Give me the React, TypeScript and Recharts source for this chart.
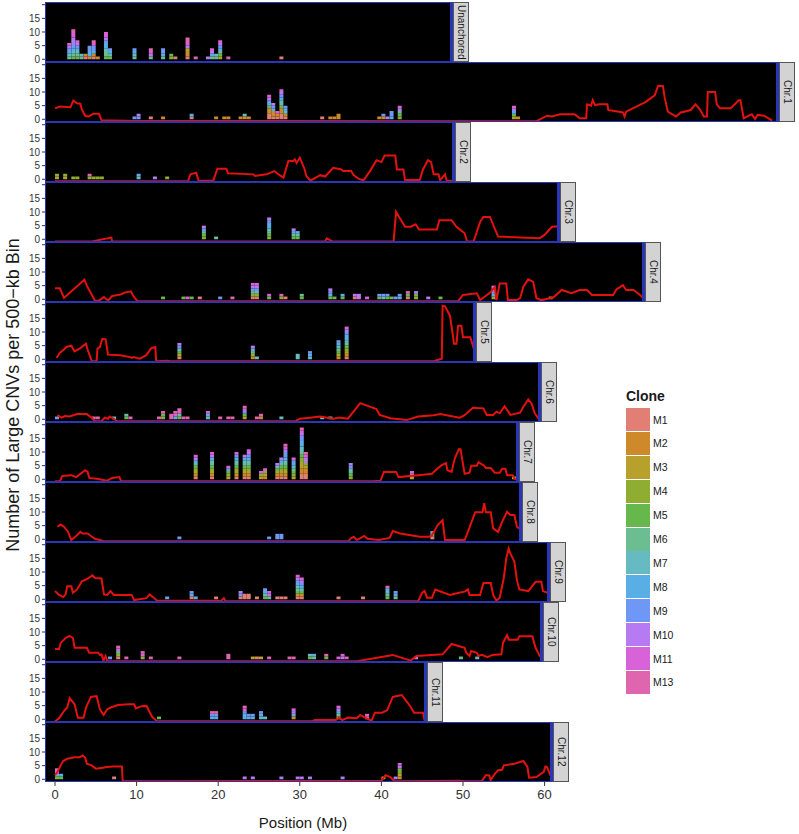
import { ComposedChart, LineChart, Bar, Line, XAxis, YAxis, CartesianGrid } from 'recharts';

type Bin = [number, number[]];
type Pt = [number, number];

const CLONES = ['M1', 'M2', 'M3', 'M4', 'M5', 'M6', 'M7', 'M8', 'M9', 'M10', 'M11', 'M13'];
const CLONE_NUMS = [1, 2, 3, 4, 5, 6, 7, 8, 9, 10, 11, 13];
const CLONE_COLORS = [
  '#E17F74', '#CE8A2A', '#B8A02D', '#8FAE31', '#66B84C', '#6CBE92',
  '#66BAC2', '#5AAEE6', '#6F98F6', '#B67AF2', '#D862D8', '#E065AF',
];

const PANELS = ['Unanchored', 'Chr.1', 'Chr.2', 'Chr.3', 'Chr.4', 'Chr.5', 'Chr.6', 'Chr.7', 'Chr.8', 'Chr.9', 'Chr.10', 'Chr.11', 'Chr.12'];
const PANEL_ENDS = [48.8, 88.7, 49.0, 61.9, 72.3, 51.6, 59.6, 56.9, 57.2, 60.7, 59.8, 45.6, 61.0];
const X_TICKS = [0, 10, 20, 30, 40, 50, 60];
const Y_TICKS = [0, 5, 10, 15, 20];

// stacked CNV counts per 500-kb bin: [bin centre (Mb), clones hit]
const binsUn: Bin[] = [
  [1.75, [6, 7, 8, 9, 10, 11]], [2.25, [5, 6, 7, 8, 9, 9, 10, 10, 11, 11, 13]], [2.75, [5, 6, 7, 8, 9, 10, 11]],
  [3.25, [6, 7]], [3.75, [1, 2]], [4.25, [2, 8, 8, 9, 9]], [4.75, [1, 2, 8, 9, 9, 11, 13]], [5.25, [2]],
  [6.25, [5, 6, 6, 7, 8, 8, 9, 10, 11, 11]], [6.75, [5, 6, 8, 9]], [9.75, [6, 7, 8, 9]], [11.75, [6, 10, 11, 13]],
  [13.25, [6, 8, 9, 9]], [14.25, [4, 5]], [14.75, [1]], [16.25, [1, 2, 2, 3, 10, 11, 13, 13]], [17.25, [13]],
  [18.75, [10]], [19.25, [6, 8, 10, 11]], [19.75, [6, 7]], [20.25, [3, 5, 6, 8, 9, 10, 11]], [21.25, [13]],
  [27.75, [1]],
];
const binsC1: Bin[] = [
  [9.75, [9]], [10.25, [9, 10]], [11.75, [1]], [13.25, [2]], [16.75, [1, 8]], [19.75, [2]], [20.75, [2]],
  [21.25, [2]], [22.75, [2]], [23.25, [2, 7]], [23.75, [2]], [26.25, [1, 1, 2, 2, 5, 8, 9, 10, 11]],
  [26.75, [1, 2, 2, 8, 9, 10]], [27.25, [1, 2, 11]], [27.75, [1, 1, 2, 2, 5, 6, 7, 8, 9, 10, 11]],
  [28.25, [1, 2, 7, 8, 9]], [32.75, [1]], [33.75, [2]], [34.25, [2]], [34.75, [2, 2]], [39.75, [2]],
  [40.25, [2, 9]], [40.75, [10]], [41.25, [8, 9, 9]], [42.25, [4, 5, 6, 10, 11]], [56.25, [3, 5, 8, 10, 11]], [56.75, [2]],
];
const binsC2: Bin[] = [
  [0.25, [3, 4]], [1.25, [3, 4]], [2.25, [4]], [2.75, [4]], [4.25, [4, 13]], [4.75, [4]], [5.25, [4]], [5.75, [4]],
  [10.25, [7, 8]], [12.25, [10]], [13.75, [4]],
];
const binsC3: Bin[] = [
  [18.25, [4, 5, 6, 9, 10]], [19.75, [6]], [26.25, [4, 5, 6, 7, 8, 8, 9, 10]], [29.25, [5, 6, 8, 10]], [29.75, [5, 6, 8]],
];
const binsC4: Bin[] = [
  [13.25, [5]], [15.75, [5]], [16.25, [11]], [16.75, [5]], [17.75, [1]], [20.25, [9]], [21.75, [13]],
  [24.25, [1, 4, 6, 9, 10, 11]], [24.75, [1, 4, 6, 9, 10, 11]], [26.25, [5, 11]], [27.75, [4, 13]], [28.25, [1]],
  [30.25, [5, 6]], [33.75, [5, 8, 9, 10]], [34.25, [5]], [35.25, [5, 8]], [36.75, [1, 10]], [37.25, [10, 10]],
  [38.25, [11]], [39.75, [5, 9]], [40.25, [7, 9]], [40.75, [5, 9]], [41.25, [5]], [41.75, [9]], [42.25, [8, 9]],
  [43.25, [1, 5, 13]], [44.25, [4, 5, 10]], [45.75, [10]], [47.25, [5]], [53.75, [4, 8, 9, 10, 11]], [60.75, [1]],
];
const binsC5: Bin[] = [
  [15.25, [1, 3, 5, 7, 9, 10]], [24.25, [2, 4, 6, 8, 10]], [24.75, [7]], [29.75, [7, 7]], [31.25, [7, 8, 9]],
  [34.75, [2, 3, 5, 6, 7, 8, 9]], [35.75, [1, 2, 3, 4, 5, 6, 7, 8, 8, 9, 10, 11]],
];
const binsC6: Bin[] = [
  [0.25, [9]], [4.75, [13]], [5.25, [13]], [7.25, [7]], [8.75, [5, 6]], [9.25, [13]], [12.75, [13]],
  [13.25, [4, 5, 13]], [14.25, [13, 13]], [14.75, [8, 11, 13]], [15.25, [5, 6, 11, 13]], [15.75, [13]], [16.25, [13]],
  [18.75, [7, 8, 11]], [20.25, [13]], [21.25, [13]], [21.75, [13]], [23.25, [3, 5, 9, 11, 13]], [24.75, [13]],
  [25.25, [2, 13]], [27.75, [7]], [32.75, [7]], [33.75, [7]],
];
const binsC7: Bin[] = [
  [17.25, [1, 2, 3, 4, 5, 6, 8, 10, 11]], [19.25, [1, 2, 3, 4, 5, 6, 7, 8, 10, 11]], [21.25, [3, 4, 5, 9, 11]],
  [22.25, [1, 2, 3, 4, 5, 6, 7, 8, 9, 11]], [23.25, [1, 2, 3, 4, 5, 6, 7, 8, 10]], [23.75, [1, 2, 3, 4, 5, 6, 7, 8, 9, 10, 11]],
  [25.25, [3, 4, 11]], [25.75, [2, 3, 4, 11]], [27.25, [1, 2, 3, 5, 7, 10]], [27.75, [1, 2, 3, 4, 5, 6, 8, 10]],
  [28.25, [1, 2, 3, 4, 5, 6, 7, 8, 9, 9, 10, 11, 13]], [29.25, [3, 4, 5, 6, 7, 8, 9, 11]],
  [30.25, [1, 1, 2, 2, 3, 3, 4, 4, 5, 6, 7, 7, 8, 8, 9, 9, 10, 11, 13]], [30.75, [1, 1, 2, 2, 3, 4, 10, 10, 11, 13]],
  [36.25, [4, 5, 6, 7, 9, 10]], [43.75, [3, 10, 11]], [56.25, [4]],
];
const binsC8: Bin[] = [
  [15.25, [9]], [26.25, [9]], [27.25, [9, 9]], [27.75, [9, 9]], [46.25, [1, 5, 9]],
];
const binsC9: Bin[] = [
  [13.75, [8]], [16.75, [1, 8, 9]], [17.25, [8]], [19.75, [1]], [22.75, [1, 9, 10]], [23.25, [1, 1]], [23.75, [1, 1]],
  [24.75, [1]], [25.75, [5, 6, 8, 9]], [26.25, [6, 10, 11]], [27.25, [1]], [27.75, [1]], [28.25, [1]],
  [29.75, [1, 2, 5, 6, 7, 8, 9, 10, 11]], [30.25, [1, 2, 5, 7, 8, 9, 10, 11]], [34.75, [1]], [37.75, [1]],
  [40.75, [5, 6, 7, 8, 13]], [41.75, [6, 8, 9]],
];
const binsC10: Bin[] = [
  [6.75, [9]], [7.75, [1, 4, 6, 11, 13]], [8.75, [13]], [10.75, [4, 11, 13]], [11.75, [13]], [15.25, [13]],
  [21.25, [13, 13]], [24.25, [3]], [24.75, [1]], [25.25, [3]], [26.25, [13]], [28.75, [13]], [29.25, [13]],
  [31.25, [5, 7]], [31.75, [6, 8]], [33.25, [5, 13]], [34.75, [11]], [35.25, [10, 11]], [35.75, [13]],
  [44.25, [10]], [49.75, [6]], [51.75, [7]],
];
const binsC11: Bin[] = [
  [12.75, [5]], [19.25, [8, 9, 13]], [19.75, [8, 9, 13]], [23.25, [8, 8, 9, 11, 13]], [23.75, [8, 9]], [24.25, [8, 9]],
  [25.25, [7, 8, 9]], [25.75, [7]], [29.25, [2, 8, 10, 11]], [34.75, [3, 6, 8, 10, 11]], [38.25, [11, 13]],
];
const binsC12: Bin[] = [
  [0.25, [4, 8, 10, 13]], [0.75, [5, 8]], [7.25, [1]], [23.25, [10]], [24.25, [10]], [27.75, [10]], [29.75, [10]],
  [30.25, [10]], [31.25, [10]], [35.25, [10]], [40.25, [3]], [41.75, [10]], [42.25, [2, 3, 4, 5, 10, 11]],
];

// red density track: [position (Mb), value]
const lineC1: Pt[] = [
  [0, 4], [0.6, 4.7], [1.9, 4.4], [2.25, 6.9], [2.7, 5.9], [3.1, 5.7], [3.3, 3.5], [3.7, 1.2], [4.1, 1], [4.7, 2], [5.4, 2],
  [5.7, -0.4], [10, -0.6], [59, -0.7], [60.3, 1.3], [60.9, 1], [61.9, 1.8], [63.7, 1.8], [64.3, 0.4], [65.1, 0.4],
  [65.2, 5.5], [65.7, 5], [65.9, 7], [66.2, 5.2], [66.7, 5.5], [67.7, 5.5], [67.8, 3.4], [69.6, 2.5], [69.8, 1],
  [70, 2.8], [72.3, 6.2], [73.5, 8.8], [73.9, 12.2], [74.5, 12.2], [74.7, 8.2], [75.1, 2.8], [76.1, 1], [76.7, 2.5],
  [77.9, 3.4], [78.5, 5.5], [79.1, 3.4], [79.5, 1], [79.9, 1], [80, 10], [80.9, 10], [81.1, 5.5], [81.5, 4], [82.8, 4],
  [83.8, 7], [84, 7], [84.4, 0.4], [84.8, 1], [85.4, 1.8], [85.8, 0.1], [86.1, 1.6], [86.9, 1.3], [87.9, -0.5],
];
const lineC2: Pt[] = [
  [0, -0.7], [16.3, -0.7], [16.6, 1.8], [17.3, 2.4], [17.6, -0.5], [19.4, -0.5], [19.9, 3.9], [21.0, 3.9], [21.2, 2.2],
  [24.3, 1.8], [24.5, 1.2], [25.9, 1.8], [26.9, 3], [27.2, 2.2], [28.0, 0.6], [28.6, 6.7], [29.2, 6.7], [29.4, 7.3],
  [29.6, 6], [30.0, 7.9], [30.6, 3.6], [30.8, 1.2], [31.3, -0.5], [32.5, 1.5], [33.1, 1], [34.1, 4.2], [35.1, 3.6],
  [35.3, 3], [36.3, 3], [36.6, 1.5], [37.2, 0.2], [37.8, -0.5], [38.6, 3], [39.4, 7], [40.0, 6.3], [40.4, 8.7],
  [41.7, 8.7], [41.9, 3.6], [42.7, 3.6], [42.9, -0.3], [44.7, -0.3], [45.1, 3.6], [45.7, 7], [46.1, 6.3], [46.4, 1.8],
  [47.0, 1.8], [47.2, -0.3], [47.8, 1.8], [48.0, -0.5], [49.0, -0.5],
];
const lineC3: Pt[] = [
  [0, -0.8], [4.5, -0.8], [6.9, 0.6], [7.0, -0.8], [33.1, -0.8], [33.3, 0.3], [34.0, -0.8], [41.5, -0.8], [41.8, 10],
  [42.9, 4.6], [43.6, 4.6], [44.2, 5.5], [44.6, 3.6], [46.8, 3.6], [47.1, 7], [48.6, 7], [49.2, 4.6], [50.2, 2.2],
  [50.5, -0.8], [51.3, -0.8], [52.1, 6.4], [52.5, 8.2], [53.3, 8.2], [54.3, 1], [59.4, 0.4], [60.0, 1.6], [60.9, 4.6], [61.9, 4.8],
];
const lineC4: Pt[] = [
  [0, 4], [0.6, 4], [1.1, 0.5], [3.6, 7.2], [3.9, 5], [4.9, -0.5], [5.4, -0.5], [6.0, 0.8], [6.5, -0.5], [7.0, 1.2],
  [8.0, 1.7], [8.5, 2.4], [9.3, 2.9], [9.6, 1.2], [10.1, -0.7], [49.4, -0.7], [50.0, 1.6], [51.7, 2.2], [52.1, -0.3],
  [53.3, 2.4], [53.9, 4.4], [54.1, -0.3], [54.5, 5.8], [55.3, 5.8], [55.5, -0.3], [56.6, -0.3], [57.0, 0.4], [57.4, 4.6],
  [58.0, 7.3], [58.6, 6.4], [59.0, 0.4], [59.6, -0.3], [61.1, 0.7], [62.1, 3.4], [63.3, 2.2], [64.3, 3.4], [65.2, 3.4],
  [65.8, 1.6], [68.4, 1.6], [68.8, 3.6], [69.6, 5.2], [70.0, 3.4], [70.9, 3.4], [71.7, 1.6], [72.3, -0.3],
];
const lineC5: Pt[] = [
  [0.2, 0.5], [0.6, 2.4], [1.0, 3.3], [1.4, 4.5], [2.0, 5], [2.4, 2.9], [3.1, 4.1], [3.8, 5.7], [4.0, 3.6], [4.5, -0.7],
  [5.1, -0.7], [5.2, 3.9], [5.5, 4.5], [5.8, 7.5], [6.2, 7.3], [6.5, 1.7], [8.0, 1.5], [9.2, 0.8], [9.4, 0.5], [9.6, 0.8],
  [10.4, 0.2], [11.2, 1.5], [11.8, 4.1], [12.3, 4.5], [12.4, -0.7], [13.7, -0.5], [14.1, -0.7], [46.4, -0.7], [47.4, 0.2],
  [47.5, 19.6], [47.8, 19.4], [48.4, 16], [48.7, 10], [48.9, 5.7], [49.2, 5.7], [49.4, 12.3], [49.8, 12.3], [50.0, 8.1],
  [50.9, 8.1], [51.3, 4.1], [51.6, 1.2],
];
const lineC6: Pt[] = [
  [0.3, 1.5], [0.8, 0.6], [1.2, 1.2], [1.8, 1], [2.7, 1.9], [3.9, 1.9], [4.5, 0.6], [4.9, -0.7], [5.7, -0.7], [6.1, 0.6],
  [6.5, 0.2], [6.7, 1], [7.2, 0.2], [7.6, -0.7], [29.5, -0.7], [30.0, 0.2], [31.2, 0.6], [32.5, 1], [34.1, 0.2],
  [34.9, 0.6], [35.9, 0.2], [37.4, 5.9], [39.4, 3.7], [39.8, 1.6], [41.1, 0.4], [43.1, -0.3], [44.5, 1], [46.4, 1.5],
  [47.2, 1.9], [49.6, 0.6], [50.2, 1.5], [51.2, 4.2], [52.5, 4], [52.9, 1.6], [53.7, 1.6], [54.1, 2.8], [54.5, 2.2],
  [55.1, 4.8], [55.8, 1.6], [57.0, 2.4], [57.4, 4.6], [58.0, 7.3], [58.4, 5.8], [58.8, 2.2], [59.4, -0.3], [59.6, -0.5],
];
const lineC7: Pt[] = [
  [0, -0.7], [0.6, -0.7], [0.9, 1.2], [2.0, 1.5], [2.6, 0.8], [3.7, 3.3], [4.0, 2.7], [4.2, 0.5], [5.1, 0.2], [6.4, -0.5],
  [7.0, 0.5], [7.9, 0.8], [8.1, -0.7], [39.0, -0.7], [39.9, -0.5], [40.3, 2.7], [41.8, 2.7], [42.1, 0.8], [44.5, 1.5],
  [46.2, 2], [46.4, 2.7], [47.3, 5], [47.9, 6], [48.1, 3.3], [48.6, 2.7], [49.0, 7.7], [49.5, 11.1], [49.7, 11],
  [50.2, 2], [50.8, 2.4], [51.0, 5], [51.7, 5], [51.9, 6.3], [52.6, 5], [52.8, 4.1], [53.4, 4.1], [53.9, 2.4],
  [54.5, 2.4], [54.8, 3.9], [55.2, 3.9], [55.4, 1.5], [56.1, 1.5], [56.3, 0.2], [56.9, -0.3],
];
const lineC8: Pt[] = [
  [0.3, 4.6], [0.7, 5.4], [1.1, 4.6], [1.6, 2.7], [2.0, -0.3], [2.7, 1.5], [3.1, 2.7], [3.4, 2.1], [4.0, 2.1], [4.4, 1.2],
  [4.9, 0.2], [6.0, -0.7], [36.0, -0.7], [36.2, 0.2], [36.6, 0.9], [37.0, -0.3], [37.9, 1.2], [38.3, 0.2], [39.7, -0.3],
  [41.0, 0.5], [41.4, 3], [42.3, 2.1], [44.7, 0.9], [45.8, 0.9], [46.2, 1.5], [46.9, 5.2], [47.5, 7], [47.8, -0.3],
  [50.2, -0.3], [50.6, 2.7], [51.5, 9.9], [52.4, 9.9], [52.6, 13.2], [52.8, 9.9], [53.4, 9.9], [53.7, 4], [54.3, 2.7],
  [54.8, 6.4], [55.4, 10.1], [55.8, 8.9], [56.3, 8.9], [56.6, 4.6], [56.9, 4],
];
const lineC9: Pt[] = [
  [0, 3], [0.5, 1.6], [1.0, 0.8], [1.3, 1.8], [1.5, 4.8], [2.0, 4.8], [2.2, 2.4], [2.7, 3.6], [3.3, 6.6], [4.0, 7.6],
  [4.6, 8.8], [4.9, 7.8], [5.7, 7.6], [6.0, 1.8], [6.4, 1.6], [6.8, 3], [7.2, 1.6], [9.4, 1.6], [9.7, -0.3], [11.2, 0.4],
  [11.6, 1.8], [12.1, 0.6], [12.5, -0.5], [20.4, -0.5], [20.7, 0.4], [20.9, -0.7], [44.5, -0.7], [45.0, 2.4], [45.3, 3],
  [45.6, 0.6], [46.2, 0.6], [46.6, 3.6], [48.4, 1.6], [49.5, 2.4], [50.2, 2.8], [50.6, 3.6], [50.8, 1.6], [52.1, 1.6],
  [52.5, 6], [53.4, 6], [53.7, 1.6], [54.1, -0.5], [54.5, 0.6], [55.0, 7.8], [55.3, 15], [55.6, 18.6], [55.8, 16.8],
  [56.3, 13.8], [56.6, 7.2], [56.9, 3.6], [58.0, 3], [58.9, 6.4], [59.6, 6.4], [59.8, 3], [60.4, 2.4], [60.6, 0.6],
];
const lineC10: Pt[] = [
  [0, 3.8], [0.5, 3.8], [0.7, 6], [1.3, 7.8], [1.8, 8.6], [2.2, 7.8], [2.4, 4.2], [3.9, 4.2], [4.2, 2.4], [5.3, 2.4],
  [5.5, 1.6], [5.7, 1.8], [5.95, -0.5], [6.2, 1.2], [6.4, -0.7], [37.0, -0.7], [41.4, 1.6], [43.6, -0.5], [44.3, 1.2],
  [47.5, 1.8], [48.6, 5.6], [50.2, 4.2], [50.4, 2.4], [50.8, 1.2], [51.0, 3], [51.7, 2.4], [51.9, 1.2], [52.3, 1.6],
  [53.0, 0.8], [53.6, 1.6], [54.7, 1.8], [54.9, 6], [55.4, 8.8], [55.6, 7.2], [56.7, 7.2], [56.9, 8.4], [58.5, 8.4],
  [58.9, 4.2], [59.4, 1.2], [59.8, 0.8],
];
const lineC11: Pt[] = [
  [0, -0.7], [0.5, 0.4], [1.1, 3], [1.5, 4.3], [1.8, 7.7], [2.4, 5.5], [2.8, 0.6], [3.5, 0.6], [3.8, 4.3], [4.4, 8.2],
  [5.1, 8.5], [5.5, 3.7], [5.95, 1.6], [6.4, 3.7], [7.0, 4.5], [7.7, 5.2], [9.0, 5.5], [9.7, 5.5], [9.9, 4], [10.6, 4.8],
  [11.2, 4.9], [11.9, 0.9], [12.5, -0.7], [31.6, -0.7], [31.8, -0.3], [34.4, -0.3], [34.8, 0.6], [35.2, -0.3],
  [35.9, 0.6], [37.0, 0.4], [37.4, 1.6], [38.1, 0.4], [38.8, -0.5], [39.2, 2.4], [40.1, 2.4], [40.7, 3.3], [41.4, 8.2],
  [42.5, 8.9], [42.9, 7.3], [43.6, 4.5], [44.0, 2.4], [45.1, 2.4], [45.3, -0.5],
];
const lineC12: Pt[] = [
  [0, 1.5], [0.3, 2.7], [0.7, 5.1], [1.0, 6.7], [1.5, 7.5], [2.4, 8.1], [3.0, 8.1], [3.4, 8.7], [3.7, 7.9], [3.9, 5.7],
  [4.5, 5.1], [5.0, 3.9], [5.9, 4.2], [6.3, 4.5], [7.1, 4.7], [8.2, 4.7], [8.3, -0.7], [40.0, -0.5], [40.5, 1.5],
  [41.1, 0.8], [41.6, -0.7], [49.5, -0.5], [50.1, -0.7], [52.3, -0.7], [52.8, 1.5], [53.2, 1.5], [53.4, -0.3], [53.9, 2],
  [54.3, 3.3], [54.8, 3.5], [55.0, 5.1], [56.3, 5.7], [57.4, 6.7], [57.9, 4.5], [58.1, 0.6], [59.0, 0.8], [59.9, 2.7],
  [60.1, 4.7], [60.3, 4.5], [60.7, 1.5], [61.0, 0.6],
];

const PANEL_BINS = [binsUn, binsC1, binsC2, binsC3, binsC4, binsC5, binsC6, binsC7, binsC8, binsC9, binsC10, binsC11, binsC12];
const PANEL_LINES: Pt[][] = [[], lineC1, lineC2, lineC3, lineC4, lineC5, lineC6, lineC7, lineC8, lineC9, lineC10, lineC11, lineC12];

const FONT = '"Liberation Sans", Arial, Helvetica, sans-serif';
const PX_PER_MB = 8.16;
const X_MIN = -1.225;
const PLOT_LEFT = 45;
const TOP0 = 2;
const PANEL_H = 60;
const PAD = 6;
const BORDER = '#2a36b8';

const toRows = (bins: Bin[]) =>
  bins.map(([pos, list]) => {
    const row: Record<string, number> = { pos };
    CLONES.forEach((c, k) => {
      row[c] = list.filter((n) => n === CLONE_NUMS[k]).length;
    });
    return row;
  });

const Panel = ({ idx }: { idx: number }) => {
  const end = PANEL_ENDS[idx];
  const w = PLOT_LEFT + (end - X_MIN) * PX_PER_MB;
  const top = TOP0 + idx * PANEL_H;
  const last = idx === PANELS.length - 1;
  const bottomSpace = last ? 26 : PAD;
  const h = PAD + PANEL_H + bottomSpace;
  const rows = toRows(PANEL_BINS[idx]);
  const lineRows = PANEL_LINES[idx].map(([pos, v]) => ({ pos, v }));

  return (
    <>
      <div style={{ position: 'absolute', left: 0, top: top - PAD, width: w, height: h }}>
        <ComposedChart
          width={w}
          height={h}
          data={rows}
          margin={{ top: PAD, right: 0, bottom: last ? 0 : PAD, left: 0 }}
        >
          <CartesianGrid fill="#000" fillOpacity={1} horizontal={false} vertical={false} stroke="none" />
          <XAxis
            type="number"
            dataKey="pos"
            domain={[X_MIN, end]}
            allowDataOverflow
            hide={!last}
            height={last ? 26 : 0}
            ticks={X_TICKS}
            interval={0}
            axisLine={false}
            tickSize={4}
            tickMargin={4}
            tickLine={{ stroke: '#333' }}
            tick={{ fontSize: 13, fill: '#333' }}
          />
          <YAxis
            type="number"
            domain={[-1, 21]}
            allowDataOverflow
            ticks={Y_TICKS}
            interval={0}
            width={PLOT_LEFT}
            axisLine={false}
            tickSize={3}
            tickMargin={2}
            tickLine={{ stroke: '#333' }}
            tick={{ fontSize: 10, fill: '#333' }}
            tickFormatter={(v: number) => (v === 20 ? '' : String(v))}
          />
          {CLONES.map((c, k) => (
            <Bar key={c} dataKey={c} stackId="clone" fill={CLONE_COLORS[k]} barSize={4} isAnimationActive={false} />
          ))}
        </ComposedChart>
      </div>
      {lineRows.length > 0 && (
        <div style={{ position: 'absolute', left: 0, top: top - PAD, width: w, height: h }}>
          <LineChart
            width={w}
            height={h}
            data={lineRows}
            margin={{ top: PAD, right: 0, bottom: bottomSpace, left: PLOT_LEFT }}
          >
            <XAxis type="number" dataKey="pos" domain={[X_MIN, end]} allowDataOverflow hide />
            <YAxis type="number" domain={[-1, 21]} allowDataOverflow hide />
            <Line
              dataKey="v"
              type="linear"
              stroke="#e3120f"
              strokeWidth={2}
              dot={false}
              activeDot={false}
              isAnimationActive={false}
            />
          </LineChart>
        </div>
      )}
      <div
        style={{
          position: 'absolute',
          left: PLOT_LEFT,
          top,
          width: w - PLOT_LEFT,
          height: PANEL_H,
          boxSizing: 'border-box',
          borderTop: `1px solid ${BORDER}`,
          borderBottom: `1px solid ${BORDER}`,
          borderLeft: `1px solid ${BORDER}`,
          borderRight: `3px solid ${BORDER}`,
          pointerEvents: 'none',
        }}
      />
      <div
        style={{
          position: 'absolute',
          left: w,
          top,
          width: 16,
          height: PANEL_H,
          boxSizing: 'border-box',
          border: '1px solid #555',
          background: '#d3d3d3',
          display: 'flex',
          alignItems: 'center',
          justifyContent: 'center',
        }}
      >
        <span style={{ writingMode: 'vertical-rl', fontSize: 10, color: '#1a1a1a', lineHeight: 1 }}>{PANELS[idx]}</span>
      </div>
    </>
  );
};

const App = () => {
  return (
    <div style={{ position: 'absolute', left: 0, top: 0, width: 799, height: 834, background: '#fff', fontFamily: FONT }}>
      {PANELS.map((p, i) => (
        <Panel key={p} idx={i} />
      ))}

      <div
        style={{
          position: 'absolute',
          left: 13,
          top: 395,
          transform: 'translate(-50%, -50%) rotate(-90deg)',
          whiteSpace: 'nowrap',
          fontSize: 18,
          color: '#1a1a1a',
        }}
      >
        Number of Large CNVs per 500−kb Bin
      </div>
      <div
        style={{
          position: 'absolute',
          left: 303,
          top: 822,
          transform: 'translate(-50%, -50%)',
          whiteSpace: 'nowrap',
          fontSize: 15,
          color: '#1a1a1a',
        }}
      >
        Position (Mb)
      </div>

      {/* legend */}
      <div style={{ position: 'absolute', left: 626, top: 388, fontSize: 14, fontWeight: 'bold', color: '#1a1a1a' }}>Clone</div>
      {CLONES.map((c, k) => (
        <div key={c}>
          <div
            style={{
              position: 'absolute',
              left: 626,
              top: 408 + k * 23.9,
              width: 24,
              height: 23,
              background: CLONE_COLORS[k],
            }}
          />
          <div
            style={{
              position: 'absolute',
              left: 653,
              top: 408 + k * 23.9 + 11.5,
              transform: 'translateY(-50%)',
              fontSize: 10.5,
              color: '#1a1a1a',
            }}
          >
            {c}
          </div>
        </div>
      ))}
    </div>
  );
};

export default App;
